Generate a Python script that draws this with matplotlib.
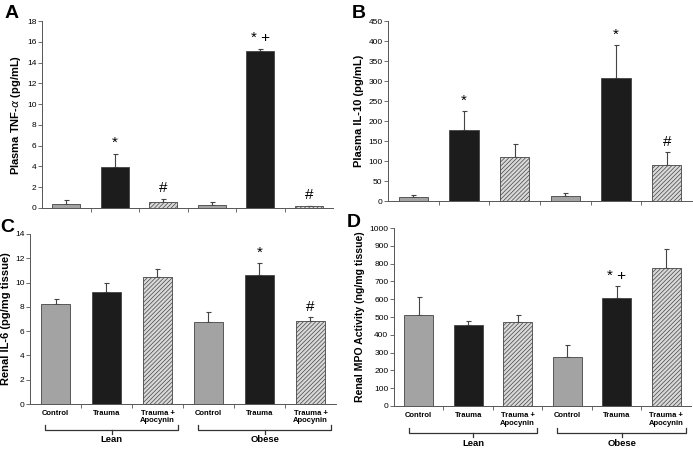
import matplotlib
matplotlib.use("Agg")
import matplotlib.pyplot as plt
from matplotlib.transforms import blended_transform_factory
import numpy as np

plt.rcParams['font.family'] = ['Liberation Sans', 'DejaVu Sans']
plt.rcParams['hatch.linewidth'] = 0.5
plt.rcParams['hatch.color'] = '#5a5a5a'

groups = ['Control', 'Trauma', 'Trauma +\nApocynin'] * 2
cohorts = ['Lean', 'Obese']

tnf = [0.4, 3.9, 0.6, 0.3, 15.1, 0.2]
tnf_err = [0.4, 1.3, 0.3, 0.3, 0.25, 0.0]
tnf_marks = ['', '*', '#', '', '* +', '#']

il10 = [10, 178, 110, 12, 308, 90]
il10_err = [5, 47, 33, 7, 82, 32]
il10_marks = ['', '*', '', '', '*', '#']

il6 = [8.25, 9.2, 10.45, 6.75, 10.65, 6.85]
il6_err = [0.4, 0.75, 0.65, 0.85, 0.95, 0.3]
il6_marks = ['', '', '', '', '*', '#']

mpo = [510, 455, 472, 275, 608, 775]
mpo_err = [105, 25, 37, 70, 65, 105]
mpo_marks = ['', '', '', '', '* +', '']

colors = ['#a3a3a3', '#1c1c1c', '#d9d9d9'] * 2
hatches = ['', '', '////////'] * 2


def draw_panel(ax, vals, errs, marks, ymax, step, ylabel, show_x, ysize=8):
    x = np.arange(len(vals))
    for i in range(len(vals)):
        ax.bar(x[i], vals[i], width=0.58, color=colors[i], hatch=hatches[i],
               edgecolor='#444444', linewidth=0.6, zorder=2)
    ax.errorbar(x, vals, yerr=[np.zeros(len(errs)), errs], fmt='none',
                ecolor='#444444', elinewidth=0.8, capsize=1.8, capthick=0.8, zorder=1)
    for i, m in enumerate(marks):
        if m:
            ax.text(x[i], vals[i] + errs[i] + ymax * 0.02, m, ha='center',
                    va='bottom', fontsize=11)
    ax.set_xlim(-0.5, len(vals) - 0.5)
    ax.set_ylim(0, ymax)
    ax.set_yticks(np.arange(0, ymax + step / 2, step))
    ax.set_xticks(np.arange(0.5, len(vals) - 0.5, 1.0))
    ax.set_xticklabels([])
    ax.tick_params(axis='x', direction='out', length=3, width=0.6, color='#555555')
    ax.tick_params(axis='y', direction='out', length=3, width=0.6, labelsize=6,
                   color='#555555', pad=1)
    for s in ['top', 'right']:
        ax.spines[s].set_visible(False)
    for s in ['left', 'bottom']:
        ax.spines[s].set_linewidth(0.7)
        ax.spines[s].set_color('#555555')
    ax.set_ylabel(ylabel, fontsize=ysize, fontweight='bold', labelpad=3)
    if show_x:
        tr = blended_transform_factory(ax.transData, ax.transAxes)
        for i, g in enumerate(groups):
            ax.text(x[i], -0.035, g, transform=tr, ha='center', va='top',
                    fontsize=5.5, fontweight='bold', linespacing=1.1)
        for k, name in enumerate(cohorts):
            left = 3 * k - 0.2
            right = 3 * k + 2.4
            mid = 3 * k + 1.1
            ax.plot([left, left, right, right], [-0.125, -0.15, -0.15, -0.125],
                    transform=tr, color='#333333', lw=0.9, clip_on=False)
            ax.plot([mid, mid], [-0.15, -0.175], transform=tr, color='#333333',
                    lw=0.9, clip_on=False)
            ax.text(mid, -0.185, name, transform=tr, ha='center', va='top',
                    fontsize=6.8, fontweight='bold')


fig = plt.figure(figsize=(6.93, 4.5), dpi=100)
axA = fig.add_axes([0.0606, 0.5378, 0.42, 0.4155])
axB = fig.add_axes([0.5599, 0.5533, 0.4387, 0.40])
axC = fig.add_axes([0.0433, 0.1022, 0.4415, 0.378])
axD = fig.add_axes([0.5685, 0.0978, 0.4285, 0.3955])

draw_panel(axA, tnf, tnf_err, tnf_marks, 18, 2, r'Plasma TNF-$\alpha$ (pg/mL)', False)
draw_panel(axB, il10, il10_err, il10_marks, 450, 50, 'Plasma IL-10 (pg/mL)', False)
draw_panel(axC, il6, il6_err, il6_marks, 14, 2, 'Renal IL-6 (pg/mg tissue)', True)
draw_panel(axD, mpo, mpo_err, mpo_marks, 1000, 100, 'Renal MPO Activity (ng/mg tissue)', True, 7.6)

letter_pos = {'A': (0.006, 0.97), 'B': (0.508, 0.97), 'C': (0.0, 0.495), 'D': (0.5, 0.505)}
for letter, (lx, ly) in letter_pos.items():
    fig.text(lx, ly, letter, fontsize=14, fontweight='bold', ha='left', va='center')

fig.savefig('out.png', dpi=100)
